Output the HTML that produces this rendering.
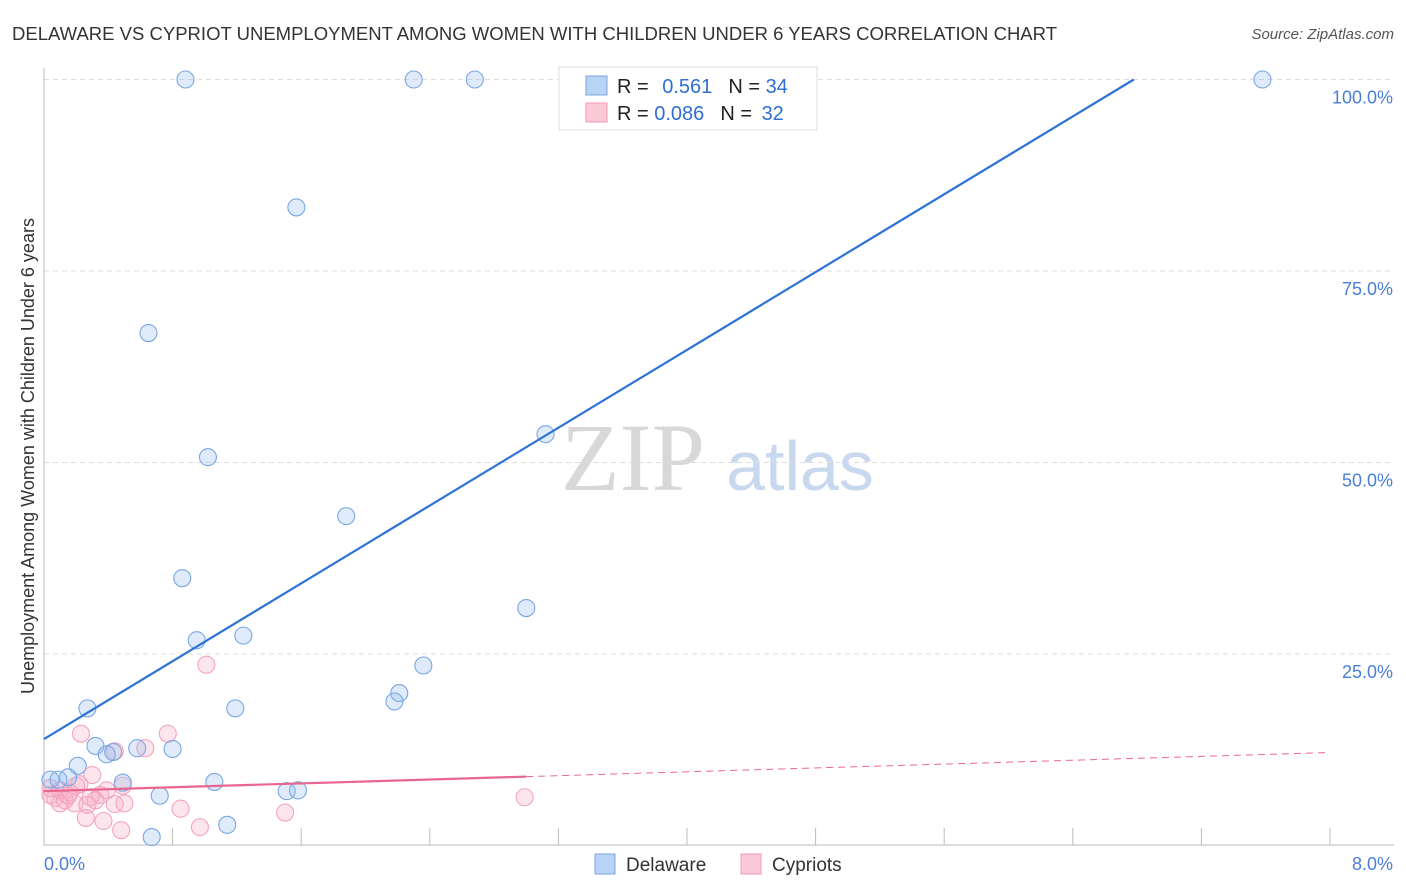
<!DOCTYPE html>
<html><head><meta charset="utf-8"><style>
body{margin:0;background:#fff;font-family:"Liberation Sans",sans-serif;}
svg{display:block}
</style></head><body>
<svg width="1406" height="892" viewBox="0 0 1406 892">
<text x="12" y="40" font-size="18" fill="#333" textLength="1045" lengthAdjust="spacingAndGlyphs">DELAWARE VS CYPRIOT UNEMPLOYMENT AMONG WOMEN WITH CHILDREN UNDER 6 YEARS CORRELATION CHART</text>
<text x="1394" y="39" font-size="15" fill="#555" font-style="italic" text-anchor="end">Source: ZipAtlas.com</text>
<g>
<text x="633" y="490" font-size="96" fill="#d8d8d8" text-anchor="middle" font-family="Liberation Serif,serif">ZIP</text>
<text x="800" y="490" font-size="70" fill="#c8d8ef" text-anchor="middle">atlas</text>
</g>
<g id="grid"></g>
<g id="axes"></g>
<g id="pts"></g>
<g id="lines"></g>
<text transform="translate(34,456) rotate(-90)" font-size="18" fill="#333" text-anchor="middle">Unemployment Among Women with Children Under 6 years</text>
<g>
<rect x="559" y="67" width="258" height="63" fill="#fff" stroke="#ddd"/>
<rect x="586" y="76" width="21" height="19" fill="#b8d3f5" stroke="#7aa6e0"/>
<rect x="586" y="103" width="21" height="19" fill="#fbc9d8" stroke="#f09ab5"/>
<text x="617" y="93" font-size="20" fill="#222">R = <tspan fill="#2f6fd1" dx="8">0.561</tspan><tspan dx="16" fill="#222">N = </tspan><tspan fill="#2f6fd1">34</tspan></text>
<text x="617" y="120" font-size="20" fill="#222">R = <tspan fill="#2f6fd1">0.086</tspan><tspan dx="16" fill="#222">N = </tspan><tspan fill="#2f6fd1" dx="4">32</tspan></text>
</g>
<g>
<rect x="595" y="854" width="20" height="20" fill="#b8d3f5" stroke="#7aa6e0"/>
<text x="626" y="871" font-size="19" fill="#333">Delaware</text>
<rect x="741" y="854" width="20" height="20" fill="#fbc9d8" stroke="#f09ab5"/>
<text x="772" y="871" font-size="19" fill="#333">Cypriots</text>
</g>
</svg>
<script>
const blueX=[0.88,2.30,2.68,7.58,1.57,0.65,1.02,3.12,1.88,0.86,3.00,0.95,1.24,2.36,2.21,2.18,0.27,1.19,0.32,0.43,0.39,0.58,0.80,0.21,0.15,0.49,1.06,0.04,0.09,1.51,1.58,0.72,1.14,0.67];
const blueY=[100,100,100,100,83.3,66.9,50.7,53.7,43.0,34.9,31.0,26.8,27.4,23.5,19.9,18.8,17.9,17.9,13.0,12.2,11.9,12.7,12.6,10.4,8.9,8.2,8.3,8.6,8.6,7.1,7.2,6.5,2.7,1.1];
const pinkX=[0.23,0.77,0.63,0.44,1.01,0.30,0.22,0.49,0.10,0.04,0.07,0.16,0.29,0.35,0.13,0.19,0.32,0.44,0.50,0.27,0.10,0.15,2.99,0.85,1.50,0.26,0.37,0.48,0.97,0.04,0.20,0.39];
const pinkY=[14.6,14.6,12.7,12.3,23.6,9.2,8.0,7.8,7.2,6.6,6.2,6.9,6.3,6.6,5.9,5.5,5.9,5.4,5.5,5.3,5.5,6.5,6.3,4.8,4.3,3.6,3.2,2.0,2.4,7.5,7.8,7.2];
const yTicks=[25,50,75,100];
const yTickLabels=["25.0%","50.0%","75.0%","100.0%"];
const xTicks=[0.8,1.6,2.4,3.2,4.0,4.8,5.6,6.4,7.2,8.0];
const blueTrend=[13.9,12.7];
const pinkTrend=[7.1,0.63];
const NS="http://www.w3.org/2000/svg";
const sx=v=>44+v/8*1286, sy=v=>845.5-v/25*191.5;
function mk(p,t,a){const e=document.createElementNS(NS,t);for(const k in a)e.setAttribute(k,a[k]);document.getElementById(p).appendChild(e);return e;}
yTicks.forEach((t,i)=>{
 const l=mk('grid','line',{x1:44,x2:1394,y1:sy(t),y2:sy(t),stroke:'#ddd','stroke-dasharray':'5,4'});
 
 
 const tx=mk('grid','text',{x:1393,y:sy(t)+24,'font-size':18,fill:'#4a7fd6','text-anchor':'end'});
 tx.textContent=yTickLabels[i];
 
 
});
const ax=mk('axes','line',{x1:44,x2:44,y1:68,y2:845,stroke:'#bbb'});


const bx=mk('axes','line',{x1:44,x2:1394,y1:845,y2:845,stroke:'#bbb'});


xTicks.forEach(k=>{const t=mk('axes','line',{x1:sx(k),x2:sx(k),y1:828,y2:845,stroke:'#bbb'});
 
 });
[["0.0%",44,'start'],["8.0%",1393,'end']].forEach(a=>{const t=mk('axes','text',{x:a[1],y:870,'font-size':18,fill:'#4a7fd6','text-anchor':a[2]});t.textContent=a[0];
 
 });
pinkX.forEach((x,i)=>{const c=mk('pts','circle',{cx:sx(x),cy:sy(pinkY[i]),r:8.5,fill:'rgba(248,170,195,0.3)',stroke:'#f3a5bd','stroke-width':1.1});
 
 });
blueX.forEach((x,i)=>{const c=mk('pts','circle',{cx:sx(x),cy:sy(blueY[i]),r:8.5,fill:'rgba(150,190,240,0.3)',stroke:'#7aa6e3','stroke-width':1.1});
 
 });
const xEnd=(100-blueTrend[0])/blueTrend[1];
const bl=mk('lines','line',{x1:sx(0),y1:sy(blueTrend[0]),x2:sx(xEnd),y2:sy(100),stroke:'#2d72d6','stroke-width':2.2});


const ps=mk('lines','line',{x1:sx(0),y1:sy(pinkTrend[0]),x2:sx(3),y2:sy(pinkTrend[0]+3*pinkTrend[1]),stroke:'#e9678f','stroke-width':2.2});


const pd=mk('lines','line',{x1:sx(3),y1:sy(pinkTrend[0]+3*pinkTrend[1]),x2:sx(8),y2:sy(pinkTrend[0]+8*pinkTrend[1]),stroke:'#e9678f','stroke-width':1,'stroke-dasharray':'7,5'});


</script>
</body></html>
